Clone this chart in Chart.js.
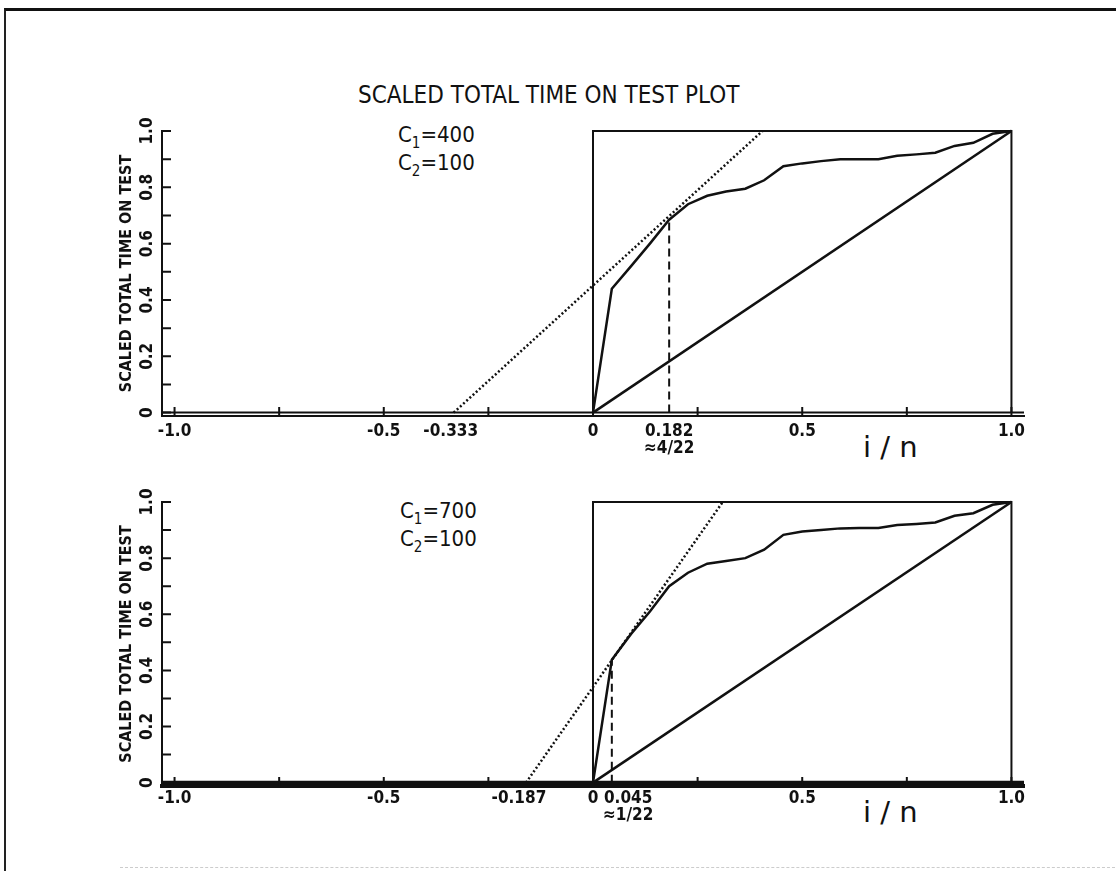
<!DOCTYPE html>
<html>
<head>
<meta charset="utf-8">
<title>Scaled total time on test plot</title>
<script src="https://cdn.jsdelivr.net/npm/chart.js@4.4.0/dist/chart.umd.min.js"></script>
<style>
  body { margin: 0; background: #fff; width: 1116px; height: 871px; overflow: hidden; position: relative;
         font-family: "DejaVu Sans Condensed", "Liberation Sans Narrow", sans-serif; color: #111; }
  .frame { position: absolute; left: 4px; top: 8px; width: 1130px; height: 880px;
           border-top: 3px solid #111; border-left: 2px solid #222; }
  .foot { position: absolute; left: 120px; top: 867px; width: 1000px; border-top: 1px dashed #ccc; }
  .title { position: absolute; left: 358px; top: 80px; font-size: 24px; line-height: 30px; white-space: nowrap; }
  .note { position: absolute; font-size: 22px; line-height: 26px; white-space: nowrap; }
  .note span { font-size: 15px; position: relative; top: 6px; }
  .xname { position: absolute; left: 863px; font-family: "DejaVu Sans", sans-serif; font-size: 29px;
           line-height: 32px; white-space: pre; }
  canvas { position: absolute; left: 0; }
</style>
</head>
<body>
<div class="frame"></div>
<div class="foot"></div>
<div class="title">SCALED TOTAL TIME ON TEST PLOT</div>
<div class="note" style="left:398px; top:122px;">C<span>1</span>=400<br>C<span>2</span>=100</div>
<div class="note" style="left:400px; top:498px;">C<span>1</span>=700<br>C<span>2</span>=100</div>
<div class="xname" style="top:431px;">i / n</div>
<div class="xname" style="top:796px;">i / n</div>
<canvas id="topChart" width="1116" height="370" style="top:100px"></canvas>
<canvas id="botChart" width="1116" height="401" style="top:470px"></canvas>
<script>
// data (n = 22, points at i/n)
const tttX = [0, 0.045, 0.091, 0.136, 0.182, 0.227, 0.273, 0.318, 0.364, 0.409, 0.455, 0.5,
              0.545, 0.591, 0.636, 0.682, 0.727, 0.773, 0.818, 0.864, 0.909, 0.955, 1.0];
const tttTopY = [0, 0.44, 0.52, 0.60, 0.685, 0.74, 0.77, 0.785, 0.795, 0.825, 0.875, 0.885,
                 0.893, 0.90, 0.90, 0.90, 0.912, 0.917, 0.923, 0.947, 0.958, 0.99, 1.0];
const tttBotY = [0, 0.438, 0.53, 0.61, 0.70, 0.748, 0.78, 0.79, 0.80, 0.83, 0.883, 0.895,
                 0.90, 0.906, 0.907, 0.907, 0.918, 0.922, 0.927, 0.951, 0.96, 0.99, 1.0];
const diagX = [0, 1];
const diagY = [0, 1];
const boxX = [0, 0, 1, 1];
const boxY = [0, 1, 1, 0];
const zeroX = [-1.03, 1.03];
const zeroY = [0, 0];
const dotY = [0, 1];
const topDotX = [-0.333, 0.405];
const botDotX = [-0.16, 0.31];
const topDashX = [0.182, 0.182];
const topDashY = [0, 0.685];
const botDashX = [0.045, 0.045];
const botDashY = [0, 0.438];

const xTickMarks = [-1, -0.75, -0.5, -0.25, 0, 0.25, 0.5, 0.75, 1];
const yTickMarks = [0, 0.1, 0.2, 0.3, 0.4, 0.5, 0.6, 0.7, 0.8, 0.9, 1.0];
const yLabelVals = [0, 0.2, 0.4, 0.6, 0.8, 1.0];
const yLabels = ["0", "0.2", "0.4", "0.6", "0.8", "1.0"];
const topLabelPos = [-1, -0.5, -0.34, 0, 0.182, 0.5, 1.0];
const topLabels = ["-1.0", "-0.5", "-0.333", "0", ["0.182", "\u22484/22"], "0.5", "1.0"];
const botLabelPos = [-1, -0.5, -0.177, 0, 0.084, 0.5, 1.0];
const botLabels = ["-1.0", "-0.5", "-0.187", "0", ["0.045", "\u22481/22"], "0.5", "1.0"];

const ink = "#111";
const fontFamily = "'DejaVu Sans Condensed', 'Liberation Sans Narrow', sans-serif";
const labelFont = { family: fontFamily, size: 17, weight: "bold", lineHeight: 1.0 };

function series(xs, ys) {
    return xs.map(function(x, i) { return { x: x, y: ys[i] }; });
}

// inward tick marks and rotated y labels, placed through the chart's scales
const axisMarks = {
    id: "axisMarks",
    afterDraw: function(chart) {
        const ctx = chart.ctx;
        const xs = chart.scales.x, ys = chart.scales.y;
        const bottom = chart.chartArea.bottom, left = chart.chartArea.left;
        ctx.save();
        ctx.strokeStyle = ink;
        ctx.lineWidth = 2;
        ctx.beginPath();
        xTickMarks.forEach(function(v) {
            const px = xs.getPixelForValue(v);
            ctx.moveTo(px, bottom); ctx.lineTo(px, bottom - 9);
        });
        yTickMarks.forEach(function(v) {
            const py = ys.getPixelForValue(v);
            ctx.moveTo(left, py); ctx.lineTo(left + 9, py);
        });
        ctx.stroke();
        ctx.fillStyle = ink;
        ctx.font = "bold 17px " + fontFamily;
        ctx.textAlign = "center";
        ctx.textBaseline = "middle";
        yLabelVals.forEach(function(v, i) {
            ctx.save();
            ctx.translate(left - 14, ys.getPixelForValue(v));
            ctx.rotate(-Math.PI / 2);
            ctx.fillText(yLabels[i], 0, 0);
            ctx.restore();
        });
        ctx.restore();
    }
};

function line(xs, ys, width, dash) {
    return { data: series(xs, ys), borderColor: ink, backgroundColor: ink, borderWidth: width,
             borderDash: dash || [], showLine: true, pointRadius: 0, tension: 0, clip: false };
}

function buildChart(id, opt) {
    return new Chart(document.getElementById(id), {
        type: "scatter",
        data: {
            datasets: [
                line(boxX, boxY, 2),
                line(diagX, diagY, 2.5),
                line(tttX, opt.curveY, 2.5),
                line(opt.dotX, dotY, 2.5, [2, 2.3]),
                line(opt.dashX, opt.dashY, 2, [8, 5]),
                line(zeroX, zeroY, opt.zeroW)
            ]
        },
        options: {
            responsive: false,
            animation: false,
            layout: { padding: { left: 100, right: 92, top: opt.padTop, bottom: 0 } },
            plugins: { legend: { display: false }, tooltip: { enabled: false }, colors: { enabled: false } },
            scales: {
                x: {
                    type: "linear", min: -1.03, max: 1.03,
                    grid: { display: false, drawTicks: false },
                    border: { display: true, color: ink, width: opt.axisW },
                    ticks: {
                        color: ink, font: labelFont, padding: opt.labelPad, autoSkip: false, maxRotation: 0,
                        callback: function(v, i) { return opt.labels[i]; }
                    },
                    afterBuildTicks: function(s) { s.ticks = opt.labelPos.map(function(v) { return { value: v }; }); },
                    afterFit: function(s) { s.height = opt.axisH; }
                },
                y: {
                    type: "linear", min: opt.yMin, max: 1,
                    grid: { display: false, drawTicks: false },
                    border: { display: true, color: ink, width: 2 },
                    ticks: { display: false },
                    title: {
                        display: true, text: "SCALED TOTAL TIME ON TEST", color: ink,
                        font: { family: fontFamily, size: 16, weight: "bold", lineHeight: 1.0 },
                        padding: { top: 19, bottom: 0 }
                    },
                    afterFit: function(s) { s.width = 62; }
                }
            }
        },
        plugins: [axisMarks]
    });
}

buildChart("topChart", {
    curveY: tttTopY, dotX: topDotX, dashX: topDashX, dashY: topDashY,
    labelPos: topLabelPos, labels: topLabels,
    yMin: -0.012, padTop: 31, axisH: 54, axisW: 2, zeroW: 2, labelPad: 7
});
buildChart("botChart", {
    curveY: tttBotY, dotX: botDotX, dashX: botDashX, dashY: botDashY,
    labelPos: botLabelPos, labels: botLabels,
    yMin: -0.012, padTop: 32, axisH: 85, axisW: 4, zeroW: 4, labelPad: 4
});
</script>
</body>
</html>
